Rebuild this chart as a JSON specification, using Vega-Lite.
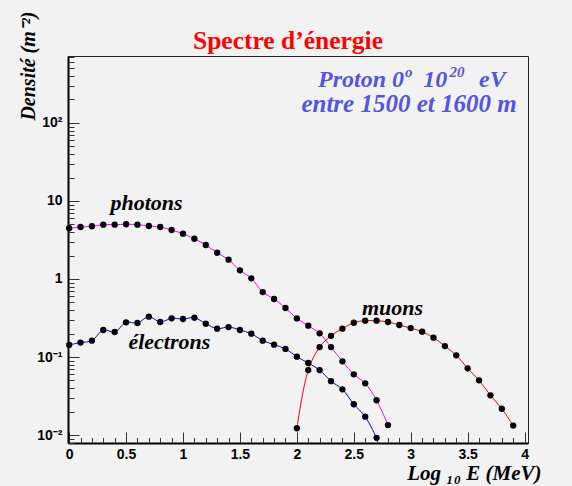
{
  "$schema": "https://vega.github.io/schema/vega-lite/v6.json",
  "width": 460,
  "height": 387,
  "autosize": {"type": "none"},
  "padding": {"left": 68, "top": 56, "right": 44, "bottom": 43},
  "background": "#f2f2f2",
  "config": {"view": {"stroke": "#222222", "strokeWidth": 1}, "axis": {"grid": false}},
  "title": {
    "text": "Spectre d’énergie",
    "color": "#ff0000",
    "font": "Liberation Serif",
    "fontWeight": "bold",
    "fontSize": 25.5,
    "anchor": "middle",
    "frame": "group",
    "baseline": "alphabetic",
    "offset": 0,
    "dy": 63,
    "dx": -10
  },
  "datasets": {
    "spectra": [
      {"particle": "photons", "x": 0.0, "y": 4.47},
      {"particle": "photons", "x": 0.1, "y": 4.64},
      {"particle": "photons", "x": 0.2, "y": 4.74},
      {"particle": "photons", "x": 0.3, "y": 4.97},
      {"particle": "photons", "x": 0.4, "y": 4.97},
      {"particle": "photons", "x": 0.5, "y": 5.03},
      {"particle": "photons", "x": 0.6, "y": 4.97},
      {"particle": "photons", "x": 0.7, "y": 4.78},
      {"particle": "photons", "x": 0.8, "y": 4.64},
      {"particle": "photons", "x": 0.9, "y": 4.25},
      {"particle": "photons", "x": 1.0, "y": 3.81},
      {"particle": "photons", "x": 1.1, "y": 3.28},
      {"particle": "photons", "x": 1.2, "y": 2.73},
      {"particle": "photons", "x": 1.3, "y": 2.17},
      {"particle": "photons", "x": 1.4, "y": 1.77},
      {"particle": "photons", "x": 1.5, "y": 1.29},
      {"particle": "photons", "x": 1.6, "y": 1.02},
      {"particle": "photons", "x": 1.7, "y": 0.68},
      {"particle": "photons", "x": 1.8, "y": 0.554},
      {"particle": "photons", "x": 1.9, "y": 0.425},
      {"particle": "photons", "x": 2.0, "y": 0.312},
      {"particle": "photons", "x": 2.1, "y": 0.252},
      {"particle": "photons", "x": 2.2, "y": 0.201},
      {"particle": "photons", "x": 2.3, "y": 0.134},
      {"particle": "photons", "x": 2.4, "y": 0.088},
      {"particle": "photons", "x": 2.5, "y": 0.060},
      {"particle": "photons", "x": 2.6, "y": 0.046},
      {"particle": "photons", "x": 2.7, "y": 0.0279},
      {"particle": "photons", "x": 2.8, "y": 0.0134},
      {"particle": "électrons", "x": 0.0, "y": 0.143},
      {"particle": "électrons", "x": 0.1, "y": 0.153},
      {"particle": "électrons", "x": 0.2, "y": 0.162},
      {"particle": "électrons", "x": 0.3, "y": 0.222},
      {"particle": "électrons", "x": 0.4, "y": 0.209},
      {"particle": "électrons", "x": 0.5, "y": 0.278},
      {"particle": "électrons", "x": 0.6, "y": 0.273},
      {"particle": "électrons", "x": 0.7, "y": 0.329},
      {"particle": "électrons", "x": 0.8, "y": 0.281},
      {"particle": "électrons", "x": 0.9, "y": 0.313},
      {"particle": "électrons", "x": 1.0, "y": 0.307},
      {"particle": "électrons", "x": 1.1, "y": 0.319},
      {"particle": "électrons", "x": 1.2, "y": 0.267},
      {"particle": "électrons", "x": 1.3, "y": 0.231},
      {"particle": "électrons", "x": 1.4, "y": 0.242},
      {"particle": "électrons", "x": 1.5, "y": 0.222},
      {"particle": "électrons", "x": 1.6, "y": 0.199},
      {"particle": "électrons", "x": 1.7, "y": 0.162},
      {"particle": "électrons", "x": 1.8, "y": 0.144},
      {"particle": "électrons", "x": 1.9, "y": 0.127},
      {"particle": "électrons", "x": 2.0, "y": 0.101},
      {"particle": "électrons", "x": 2.1, "y": 0.0838},
      {"particle": "électrons", "x": 2.2, "y": 0.068},
      {"particle": "électrons", "x": 2.3, "y": 0.049},
      {"particle": "électrons", "x": 2.4, "y": 0.0385},
      {"particle": "électrons", "x": 2.5, "y": 0.0248},
      {"particle": "électrons", "x": 2.6, "y": 0.0172},
      {"particle": "électrons", "x": 2.7, "y": 0.0092},
      {"particle": "muons", "x": 2.0, "y": 0.0122},
      {"particle": "muons", "x": 2.1, "y": 0.068},
      {"particle": "muons", "x": 2.2, "y": 0.134},
      {"particle": "muons", "x": 2.3, "y": 0.187},
      {"particle": "muons", "x": 2.4, "y": 0.231},
      {"particle": "muons", "x": 2.5, "y": 0.275},
      {"particle": "muons", "x": 2.6, "y": 0.292},
      {"particle": "muons", "x": 2.7, "y": 0.292},
      {"particle": "muons", "x": 2.8, "y": 0.281},
      {"particle": "muons", "x": 2.9, "y": 0.257},
      {"particle": "muons", "x": 3.0, "y": 0.235},
      {"particle": "muons", "x": 3.1, "y": 0.211},
      {"particle": "muons", "x": 3.2, "y": 0.177},
      {"particle": "muons", "x": 3.3, "y": 0.138},
      {"particle": "muons", "x": 3.4, "y": 0.105},
      {"particle": "muons", "x": 3.5, "y": 0.0716},
      {"particle": "muons", "x": 3.6, "y": 0.0502},
      {"particle": "muons", "x": 3.7, "y": 0.0323},
      {"particle": "muons", "x": 3.8, "y": 0.0217},
      {"particle": "muons", "x": 3.9, "y": 0.0132}
    ],
    "labels": [
      {"label": "photons", "x": 0.68, "y": 9.4},
      {"label": "électrons", "x": 0.88, "y": 0.156},
      {"label": "muons", "x": 2.84, "y": 0.425}
    ],
    "info": [
      {"label": "Proton 0", "x": 2.186, "y": 292},
      {"label": "10", "x": 3.11, "y": 292},
      {"label": "eV", "x": 3.6, "y": 292}
    ],
    "info2": [
      {"label": "entre 1500 et 1600 m", "x": 2.04, "y": 140}
    ],
    "infoSup": [
      {"label": "o", "x": 2.95, "y": 392},
      {"label": "20", "x": 3.34, "y": 392}
    ]
  },
  "layer": [
    {
      "data": {"name": "spectra"},
      "mark": {"type": "line", "interpolate": "catmull-rom", "strokeWidth": 1},
      "encoding": {
        "x": {
          "field": "x", "type": "quantitative",
          "scale": {"domain": [-0.01, 4.03], "nice": false, "zero": false},
          "axis": {
            "orient": "bottom",
            "values": [0, 0.5, 1, 1.5, 2, 2.5, 3, 3.5, 4],
            "format": "~g",
            "tickSize": -11, "tickColor": "#333333", "tickWidth": 1,
            "domainColor": "#000000", "domainWidth": 2,
            "labelFont": "Liberation Sans", "labelFontWeight": "bold", "labelFontSize": 14, "labelColor": "#000000",
            "labelPadding": 15, "labelFlush": false,
            "title": "Log ₁₀ E (MeV)",
            "titleFont": "Liberation Serif", "titleFontWeight": "bold", "titleFontStyle": "italic", "titleFontSize": 21, "titleColor": "#000000",
            "titleAlign": "right", "titleAnchor": "end", "titleX": 473, "titleY": 36, "titleBaseline": "alphabetic"
          }
        },
        "y": {
          "field": "y", "type": "quantitative",
          "scale": {"type": "log", "domain": [0.0079, 722], "nice": false},
          "axis": {
            "orient": "left",
            "values": [0.01, 0.1, 1, 10, 100],
            "labelExpr": "datum.value < 0.05 ? '10⁻²' : datum.value < 0.5 ? '10⁻¹' : datum.value < 5 ? '1' : datum.value < 50 ? '10' : '10²'",
            "tickSize": -11, "tickColor": "#333333", "tickWidth": 1,
            "domainColor": "#000000", "domainWidth": 2,
            "labelFont": "Liberation Sans", "labelFontWeight": "bold", "labelFontSize": 14, "labelColor": "#000000",
            "labelPadding": 17, "labelFlush": false,
            "title": "Densité (m⁻²)",
            "titleFont": "Liberation Serif", "titleFontWeight": "bold", "titleFontStyle": "italic", "titleFontSize": 20, "titleColor": "#000000",
            "titleAngle": -90, "titleAlign": "right", "titleAnchor": "end", "titleX": -40, "titleY": -45, "titleBaseline": "middle"
          }
        },
        "color": {
          "field": "particle", "type": "nominal",
          "scale": {"domain": ["photons", "électrons", "muons"], "range": ["#ff00ff", "#0000ff", "#ff0000"]},
          "legend": null
        }
      }
    },
    {
      "data": {"name": "spectra"},
      "mark": {"type": "point", "filled": true, "color": "#000000", "size": 40, "opacity": 1},
      "encoding": {
        "x": {
          "field": "x", "type": "quantitative",
          "axis": {
            "orient": "bottom",
            "values": [0, 0.1, 0.2, 0.3, 0.4, 0.5, 0.6, 0.7, 0.8, 0.9, 1, 1.1, 1.2, 1.3, 1.4, 1.5, 1.6, 1.7, 1.8, 1.9, 2, 2.1, 2.2, 2.3, 2.4, 2.5, 2.6, 2.7, 2.8, 2.9, 3, 3.1, 3.2, 3.3, 3.4, 3.5, 3.6, 3.7, 3.8, 3.9, 4],
            "tickSize": -5.5, "tickColor": "#333333", "tickWidth": 1,
            "labels": false, "domain": false, "title": null
          }
        },
        "y": {
          "field": "y", "type": "quantitative",
          "axis": {
            "orient": "left",
            "values": [0.008, 0.009, 0.02, 0.03, 0.04, 0.05, 0.06, 0.07, 0.08, 0.09, 0.2, 0.3, 0.4, 0.5, 0.6, 0.7, 0.8, 0.9, 2, 3, 4, 5, 6, 7, 8, 9, 20, 30, 40, 50, 60, 70, 80, 90, 200, 300, 400, 500, 600, 700],
            "tickSize": -6, "tickColor": "#333333", "tickWidth": 1,
            "labels": false, "domain": false, "title": null
          }
        }
      }
    },
    {
      "data": {"name": "labels"},
      "mark": {"type": "text", "font": "Liberation Serif", "fontWeight": "bold", "fontStyle": "italic", "fontSize": 22, "color": "#000000", "align": "center", "baseline": "middle"},
      "encoding": {
        "x": {"field": "x", "type": "quantitative", "axis": null},
        "y": {"field": "y", "type": "quantitative", "axis": null},
        "text": {"field": "label"}
      }
    },
    {
      "data": {"name": "info"},
      "mark": {"type": "text", "font": "Liberation Serif", "fontWeight": "bold", "fontStyle": "italic", "fontSize": 24, "color": "#5555dd", "align": "left", "baseline": "alphabetic"},
      "encoding": {
        "x": {"field": "x", "type": "quantitative", "axis": null},
        "y": {"field": "y", "type": "quantitative", "axis": null},
        "text": {"field": "label"}
      }
    },
    {
      "data": {"name": "info2"},
      "mark": {"type": "text", "font": "Liberation Serif", "fontWeight": "bold", "fontStyle": "italic", "fontSize": 25, "color": "#5555dd", "align": "left", "baseline": "alphabetic"},
      "encoding": {
        "x": {"field": "x", "type": "quantitative", "axis": null},
        "y": {"field": "y", "type": "quantitative", "axis": null},
        "text": {"field": "label"}
      }
    },
    {
      "data": {"name": "infoSup"},
      "mark": {"type": "text", "font": "Liberation Serif", "fontWeight": "bold", "fontStyle": "italic", "fontSize": 15, "color": "#5555dd", "align": "left", "baseline": "alphabetic"},
      "encoding": {
        "x": {"field": "x", "type": "quantitative", "axis": null},
        "y": {"field": "y", "type": "quantitative", "axis": null},
        "text": {"field": "label"}
      }
    }
  ],
  "resolve": {"axis": {"x": "independent", "y": "independent"}}
}
